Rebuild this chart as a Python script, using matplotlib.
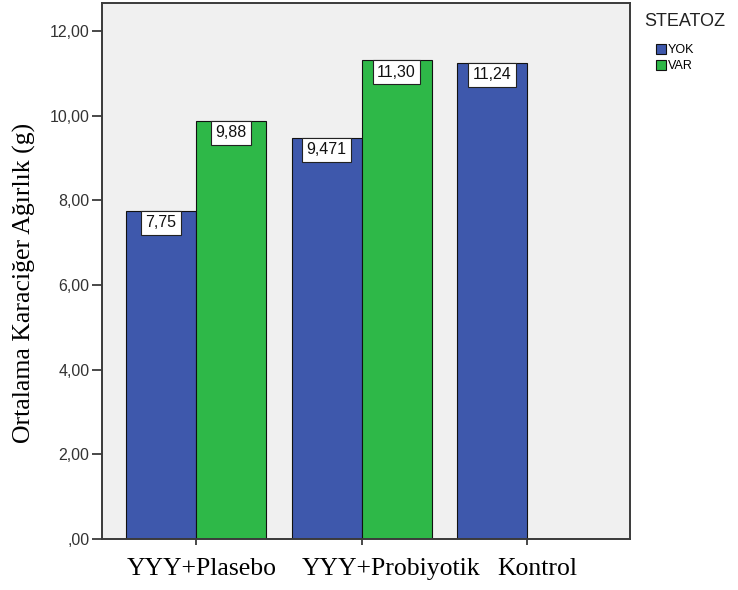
import numpy as np
import matplotlib
matplotlib.use("Agg")
import matplotlib.pyplot as plt
from matplotlib.transforms import ScaledTranslation
from matplotlib.patches import Patch

# ---- data ----
categories = ["YYY+Plasebo", "YYY+Probiyotik", "Kontrol"]
yok_values = [7.75, 9.471, 11.24]
var_values = [9.88, 11.30, np.nan]
yok_labels = ["7,75", "9,471", "11,24"]
var_labels = ["9,88", "11,30", None]
series_names = ["YOK", "VAR"]
legend_title = "STEATOZ"
y_ticks = [0, 2, 4, 6, 8, 10, 12]
y_label = "Ortalama Karaciğer Ağırlık (g)"

BLUE = "#3E58AC"
GREEN = "#2EB848"
BG = "#F0F0F0"
FRAME = "#3a3a3a"

W, H = 738, 590
fig = plt.figure(figsize=(W / 100, H / 100), dpi=100)
ax = fig.add_axes([102 / W, 51 / H, 528 / W, 536 / H])
ax.set_facecolor(BG)

x = np.arange(len(categories))
bw = 0.423
b1 = ax.bar(x - bw / 2, yok_values, bw, color=BLUE, edgecolor="#111111", linewidth=0.8, zorder=2)
b2 = ax.bar(x + bw / 2, var_values, bw, color=GREEN, edgecolor="#111111", linewidth=0.8, zorder=2)

LBL_FS = 11.5
LBL_PAD = 0.28

def label_bars(bars, labels):
    for rect, lab in zip(bars, labels):
        if lab is None:
            continue
        ax.annotate(lab, (rect.get_x() + rect.get_width() / 2, rect.get_height()),
                    xytext=(0, -LBL_PAD * LBL_FS), textcoords="offset points", ha="center", va="top",
                    fontsize=LBL_FS, family="Liberation Sans", color="#111111", zorder=4,
                    bbox=dict(boxstyle=f"square,pad={LBL_PAD}", fc="white", ec="#222222", lw=0.8))

label_bars(b1, yok_labels)
label_bars(b2, var_labels)

ax.set_xlim(-0.568, 2.622)
ax.set_ylim(0, 12.657)

def fmt(v):
    s = f"{v:.2f}".replace(".", ",")
    return s[1:] if s.startswith("0") else s

ax.set_yticks(y_ticks)
ax.set_yticklabels([fmt(v) for v in y_ticks], family="Liberation Sans", fontsize=11.5, color="#333333")
ax.set_xticks(x)
ax.set_xticklabels(categories, family="Liberation Serif", fontsize=18.5, color="black")

ax.tick_params(axis="y", length=7, width=1.3, color=FRAME, pad=2)
ax.tick_params(axis="x", length=4.5, width=1.3, color=FRAME, pad=9)

# shift x labels to match reference placement
offsets_px = [6, 29, 10]
for lab, dx in zip(ax.get_xticklabels(), offsets_px):
    lab.set_transform(lab.get_transform() + ScaledTranslation(dx / 100, 0, fig.dpi_scale_trans))

for sp in ax.spines.values():
    sp.set_color(FRAME)
    sp.set_linewidth(1.4)

fig.text(24 / W, 1 - 283 / H, y_label, rotation=90, ha="center", va="center",
         family="Liberation Serif", fontsize=18.5)

# legend
fig.text(685 / W, 1 - 22 / H, legend_title, ha="center", va="center",
         family="Liberation Sans", fontsize=13, color="#222222")
handles = [Patch(facecolor=BLUE, edgecolor="#111111", lw=0.8),
           Patch(facecolor=GREEN, edgecolor="#111111", lw=0.8)]
fig.legend(handles, series_names, loc="upper left", bbox_to_anchor=(656 / W, 1 - 44 / H),
           frameon=False, borderpad=0, borderaxespad=0, handlelength=0.8, handleheight=0.8,
           handletextpad=0.15, labelspacing=0.32, prop=dict(family="Liberation Sans", size=9))

fig.savefig("out.png", dpi=100)
